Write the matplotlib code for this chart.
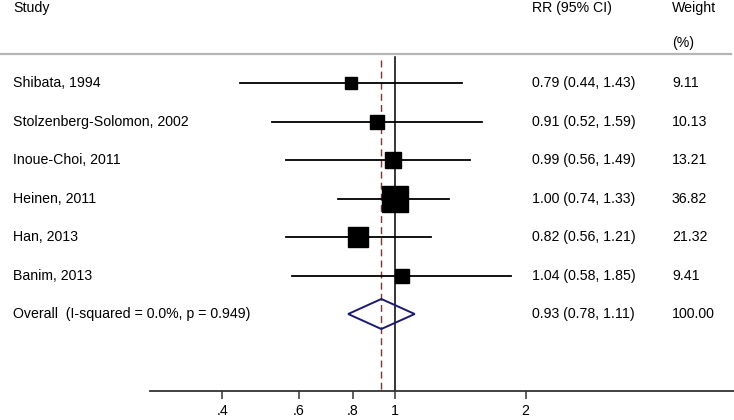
import numpy as np
import matplotlib.pyplot as plt
from matplotlib.patches import Polygon
from matplotlib.transforms import blended_transform_factory

plt.rcParams["font.family"] = ["Liberation Sans", "DejaVu Sans"]

studies = [
    "Shibata, 1994",
    "Stolzenberg-Solomon, 2002",
    "Inoue-Choi, 2011",
    "Heinen, 2011",
    "Han, 2013",
    "Banim, 2013",
]
rr = [0.79, 0.91, 0.99, 1.00, 0.82, 1.04]
ci_low = [0.44, 0.52, 0.56, 0.74, 0.56, 0.58]
ci_high = [1.43, 1.59, 1.49, 1.33, 1.21, 1.85]
weights = [9.11, 10.13, 13.21, 36.82, 21.32, 9.41]

overall_label = "Overall  (I-squared = 0.0%, p = 0.949)"
overall_rr, overall_low, overall_high = 0.93, 0.78, 1.11
overall_weight = 100.00

xticks = [0.4, 0.6, 0.8, 1, 2]
xtick_labels = [".4", ".6", ".8", "1", "2"]

FS = 10.2

fig = plt.figure(figsize=(7.34, 4.2), dpi=100)
ax = fig.add_axes([150 / 734, 29 / 420, 584 / 734, 391 / 420])
ax.set_xscale("log")
ax.set_xlim(0.2726, 6.04)
ax.set_ylim(8.0, -2.156)

for s in ["top", "right", "left"]:
    ax.spines[s].set_visible(False)
ax.spines["bottom"].set_color("#333333")
ax.spines["bottom"].set_linewidth(1.3)
ax.set_yticks([])
ax.set_xticks(xticks)
ax.set_xticklabels(xtick_labels, fontsize=FS)
ax.xaxis.set_minor_locator(plt.NullLocator())
ax.tick_params(axis="x", length=5.5, width=1.1, color="#333333", pad=4)

rows = np.arange(len(studies))

# null line and overall line
ax.plot([1, 1], [-0.675, 8.0], color="black", lw=1.1, clip_on=False)
ax.plot([overall_rr, overall_rr], [-0.6, 8.0], color="#a02828", lw=1.0,
        ls=(0, (5, 3)), clip_on=False)

for i in rows:
    ax.plot([ci_low[i], ci_high[i]], [i, i], color="black", lw=1.3, zorder=3)
    side_px = 4.28 * np.sqrt(weights[i])
    ax.plot(rr[i], i, marker="s", color="black", markersize=side_px * 0.72,
            linestyle="none", zorder=4)

# overall diamond
yo = len(studies)
h = 0.39
diamond = Polygon(
    [(overall_low, yo), (overall_rr, yo - h), (overall_high, yo), (overall_rr, yo + h)],
    closed=True, fill=False, edgecolor="#1a1a6e", lw=1.4, zorder=4)
ax.add_patch(diamond)

# text columns
tr = blended_transform_factory(fig.transFigure, ax.transData)
x_study, x_rr, x_w = 13 / 734, 532 / 734, 672 / 734
ax.text(x_study, -1.95, "Study", transform=tr, fontsize=FS, va="center")
ax.text(x_rr, -1.95, "RR (95% CI)", transform=tr, fontsize=FS, va="center")
ax.text(x_w, -1.95, "Weight", transform=tr, fontsize=FS, va="center")
ax.text(x_w, -1.04, "(%)", transform=tr, fontsize=FS, va="center")
ax.plot([0, 731 / 734], [-0.75, -0.75], transform=tr, color="#b5b5b5", lw=1.6,
        clip_on=False)

for i in rows:
    ax.text(x_study, i, studies[i], transform=tr, fontsize=FS, va="center")
    ax.text(x_rr, i, f"{rr[i]:.2f} ({ci_low[i]:.2f}, {ci_high[i]:.2f})",
            transform=tr, fontsize=FS, va="center")
    ax.text(x_w, i, f"{weights[i]:.2f}", transform=tr, fontsize=FS, va="center")

ax.text(x_study, yo, overall_label, transform=tr, fontsize=FS, va="center")
ax.text(x_rr, yo, f"{overall_rr:.2f} ({overall_low:.2f}, {overall_high:.2f})",
        transform=tr, fontsize=FS, va="center")
ax.text(x_w, yo, f"{overall_weight:.2f}", transform=tr, fontsize=FS, va="center")

fig.savefig("out.png", dpi=100)
